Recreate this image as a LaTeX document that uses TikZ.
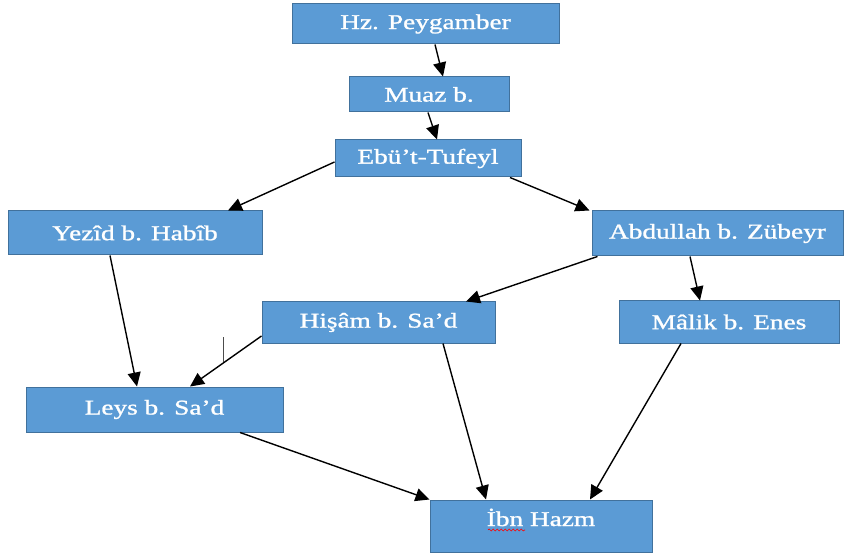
\documentclass[tikz,border=0pt]{standalone}
\usepackage{fontspec}
\setmainfont{Liberation Serif}
\newfontfamily\widefont[FakeStretch=1.3,FakeBold=1.2]{Liberation Serif}
\usetikzlibrary{arrows.meta,decorations.pathmorphing}
\definecolor{boxfill}{HTML}{5B9BD5}
\definecolor{boxline}{HTML}{41719C}
\tikzset{
  person/.style={draw=boxline, line width=1pt, fill=boxfill, text=white,
    font=\widefont\fontsize{21}{23}\selectfont, inner sep=0pt, anchor=center},
  link/.style={draw=black, line width=1.4pt, -{Triangle[length=14pt,width=13pt]}},
}
\begin{document}
\begin{tikzpicture}[x=1pt,y=-1pt]
\useasboundingbox (0,0) rectangle (844,556);
\node[person, minimum width=267pt, minimum height=40pt] (hz) at (425.5,24) {Hz. Peygamber};
\node[person, minimum width=160pt, minimum height=35pt] (muaz) at (429,94.5) {Muaz b.};
\node[person, minimum width=186pt, minimum height=37pt] (ebu) at (428,158.5) {Ebü’t-Tufeyl};
\node[person, minimum width=254pt, minimum height=44pt] (yezid) at (135,233) {Yezîd b. Habîb};
\node[person, minimum width=251pt, minimum height=45pt] (abd) at (717.5,233.5) {Abdullah b. Zübeyr};
\node[person, minimum width=233pt, minimum height=41pt] (hisam) at (378.5,322.5) {Hişâm b. Sa’d};
\node[person, minimum width=220pt, minimum height=42pt] (malik) at (729,322) {Mâlik b. Enes};
\node[person, minimum width=257pt, minimum height=45pt] (leys) at (154.5,409.5) {Leys b. Sa’d};
\node[person, minimum width=222pt, minimum height=52pt, text height=15pt, text depth=15pt] (ibn) at (541,526) {İbn Hazm};

\draw[link] ([xshift=9.5pt]hz.south) -- ([xshift=14pt]muaz.north);
\draw[link] ([xshift=-1pt]muaz.south) -- ([xshift=9pt]ebu.north);
\draw[link] ([yshift=-3.5pt]ebu.west) -- ([xshift=93pt]yezid.north);
\draw[link] ([xshift=82pt]ebu.south) -- ([xshift=-2pt]abd.north west);
\draw[link] ([xshift=6pt]abd.south west) -- ([xshift=87.5pt]hisam.north);
\draw[link] ([xshift=-27.5pt]abd.south) -- ([xshift=-29pt]malik.north);
\draw[link] ([xshift=-25pt]yezid.south) -- ([xshift=-17.5pt]leys.north);
\draw[link] ([yshift=-13.5pt]hisam.west) -- ([xshift=35.5pt]leys.north);
\draw[link] ([xshift=64.5pt]hisam.south) -- ([xshift=-55pt]ibn.north);
\draw[link] ([xshift=-48pt]malik.south) -- ([xshift=49pt]ibn.north);
\draw[link] ([xshift=85.5pt]leys.south) -- (ibn.north west);

\coordinate (tickA) at (223,337);
\coordinate (tickB) at (223,362);
\draw[line width=0.6pt, black!70] (tickA) -- (tickB);
\coordinate (sqA) at (488,530);
\coordinate (sqB) at (525,530);
\draw[red, line width=0.6pt, decorate, decoration={snake, amplitude=1pt, segment length=4pt}] (sqA) -- (sqB);
\end{tikzpicture}
\end{document}
